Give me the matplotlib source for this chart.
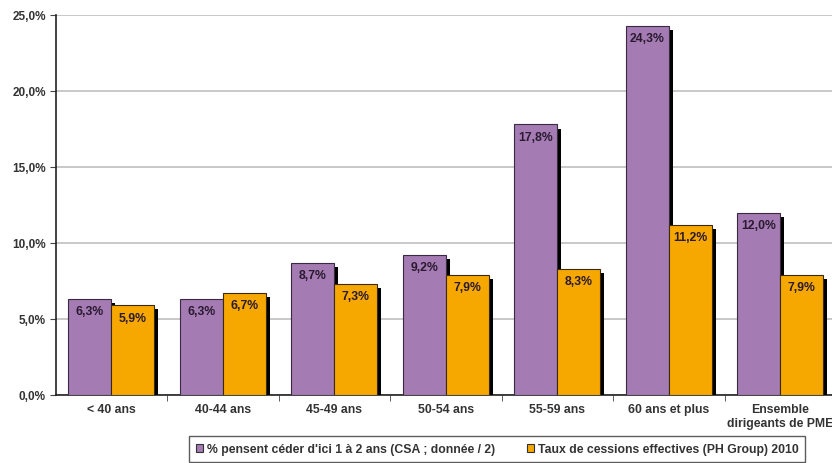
import matplotlib
matplotlib.use("Agg")
import matplotlib.pyplot as plt
import matplotlib.patheffects as pe
from matplotlib.patches import Patch
from matplotlib.ticker import FuncFormatter, FixedLocator

plt.rcParams['font.family'] = ['Liberation Sans', 'DejaVu Sans']

categories = ["< 40 ans", "40-44 ans", "45-49 ans", "50-54 ans", "55-59 ans",
              "60 ans et plus", "Ensemble\ndirigeants de PME"]
csa = [6.3, 6.3, 8.7, 9.2, 17.8, 24.3, 12.0]
ph = [5.9, 6.7, 7.3, 7.9, 8.3, 11.2, 7.9]
series_names = ["% pensent céder d'ici 1 à 2 ans (CSA ; donnée / 2)",
                "Taux de cessions effectives (PH Group) 2010"]
yticks = [0, 5, 10, 15, 20, 25]

purple = '#A47BB3'
orange = '#F7A800'
txt = '#333333'

fig = plt.figure(figsize=(8.32, 4.64), dpi=100)
ax = fig.add_axes([55.5/832, 1-396/464, 780.5/832, 380/464])

x = list(range(len(categories)))
w = 0.384
shadow = [pe.SimplePatchShadow(offset=(3, -3), shadow_rgbFace='black', alpha=1.0), pe.Normal()]
b1 = ax.bar([i - w/2 for i in x], csa, width=w, color=purple, edgecolor='#3a2a40',
            linewidth=0.8, zorder=3, path_effects=shadow)
b2 = ax.bar([i + w/2 for i in x], ph, width=w, color=orange, edgecolor='#3a2a10',
            linewidth=0.8, zorder=3, path_effects=shadow)

for bars, vals in ((b1, csa), (b2, ph)):
    for r, v in zip(bars, vals):
        ax.annotate(f"{v:.1f}%".replace('.', ','), (r.get_x() + r.get_width()/2, v),
                    xytext=(0, -4.5), textcoords='offset points', ha='center', va='top',
                    fontsize=8.8, fontweight='bold', color='#2a1a30', zorder=5)

ax.set_xlim(-0.5, len(categories) - 0.5)
ax.set_ylim(0, 25)
ax.set_yticks(yticks)
ax.yaxis.set_major_formatter(FuncFormatter(lambda v, p: f"{v:.1f}%".replace('.', ',')))
ax.yaxis.grid(True, color='#c4c4c4', linewidth=1.3, zorder=0)
ax.set_axisbelow(True)

ax.set_xticks(x)
ax.set_xticklabels(categories)
ax.tick_params(axis='x', length=0, pad=6, labelsize=8.8, labelcolor=txt)
ax.xaxis.set_minor_locator(FixedLocator([i + 0.5 for i in x[:-1]]))
ax.tick_params(axis='x', which='minor', length=4, direction='out', color='#444')
ax.tick_params(axis='y', length=4, direction='out', labelsize=8.5, labelcolor=txt, color='#444', pad=3)
for lab in ax.get_xticklabels() + ax.get_yticklabels():
    lab.set_fontweight('bold')

for s in ['top', 'right']:
    ax.spines[s].set_visible(False)
ax.spines['left'].set_color('#222')
ax.spines['bottom'].set_color('#222')
ax.spines['left'].set_linewidth(1.2)
ax.spines['bottom'].set_linewidth(1.2)

handles = [Patch(facecolor=purple, edgecolor='#333', linewidth=0.8),
           Patch(facecolor=orange, edgecolor='#333', linewidth=0.8)]
leg = fig.legend(handles, series_names, loc='center', bbox_to_anchor=(497/832, 1-450/464),
                 ncol=2, frameon=True, fancybox=False, edgecolor='#333',
                 handlelength=0.6, handleheight=0.6, handletextpad=0.3, columnspacing=2.6,
                 prop={'size': 8.8, 'weight': 'bold'}, borderpad=0.55, borderaxespad=0)
leg._legend_box.sep = 0
leg.get_frame().set_linewidth(1.0)
for t in leg.get_texts():
    t.set_color(txt)

fig.savefig('out.png', dpi=100)
